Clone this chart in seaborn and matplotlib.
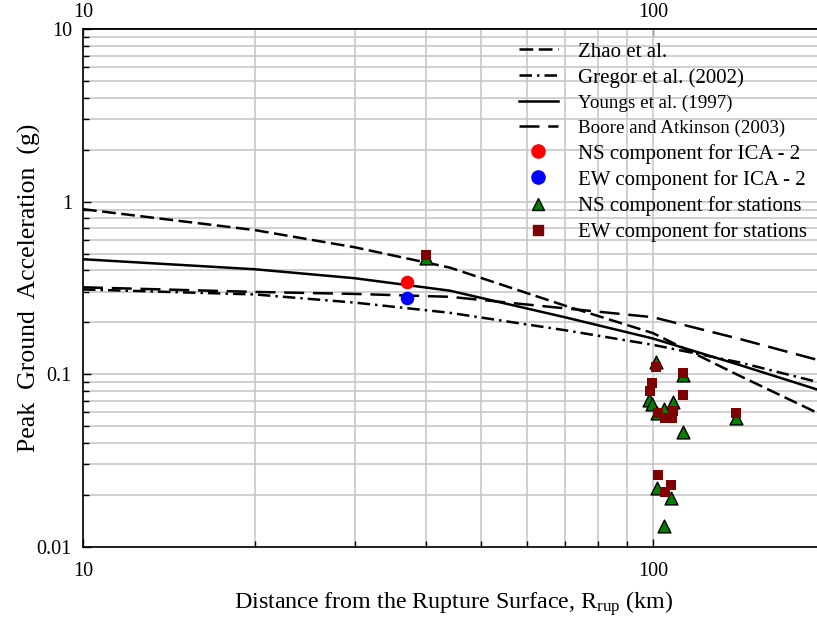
import matplotlib
matplotlib.use("Agg")
import matplotlib.pyplot as plt
import seaborn as sns
from matplotlib.lines import Line2D
from matplotlib.ticker import FixedLocator, FixedFormatter, LogLocator, NullFormatter, NullLocator

plt.rcParams.update({
    "font.family": "serif",
    "font.serif": ["Liberation Serif", "DejaVu Serif"],
    "mathtext.fontset": "custom",
    "mathtext.rm": "Liberation Serif",
    "mathtext.it": "Liberation Serif:italic",
})

# attenuation relations (distance km -> PGA g)
zhao_r = [10, 20, 30, 44, 70, 100, 140, 200]
zhao_pga = [0.905, 0.685, 0.544, 0.415, 0.25, 0.173, 0.10, 0.057]

gregor_r = [10, 20, 30, 44, 70, 100, 142, 200]
gregor_pga = [0.31, 0.29, 0.26, 0.227, 0.18, 0.148, 0.117, 0.088]

youngs_r = [10, 20, 30, 44, 70, 100, 142, 200]
youngs_pga = [0.464, 0.406, 0.36, 0.305, 0.214, 0.161, 0.113, 0.079]

boore_r = [10, 20, 30, 44, 70, 100, 142, 200]
boore_pga = [0.319, 0.30, 0.292, 0.281, 0.241, 0.214, 0.16, 0.118]

# recorded values
ica_r = [37.0]
ica_ns = [0.341]
ica_ew = [0.277]

st_ns_r = [40, 101.1, 112.7, 98.5, 99.5, 108.5, 104.7, 101.5, 112.7, 139.8, 101.7, 107.4, 104.7]
st_ns = [0.47, 0.117, 0.099, 0.071, 0.067, 0.069, 0.0626, 0.0593, 0.0464, 0.0561, 0.022, 0.0191, 0.0132]

st_ew_r = [40, 101.1, 112.7, 99.5, 98.6, 112.7, 102, 108.5, 105, 107.8, 139.8, 102, 107.4, 105]
st_ew = [0.49, 0.110, 0.102, 0.0886, 0.080, 0.0755, 0.0598, 0.0614, 0.0555, 0.0555, 0.0598, 0.026, 0.0228, 0.0208]

x_ticks = [10, 100]
x_tick_labels = ["10", "100"]
y_ticks = [0.01, 0.1, 1, 10]
y_tick_labels = ["0.01", "0.1", "1", "10"]

labels = ["Zhao et al.", "Gregor et al. (2002)", "Youngs et al. (1997)",
          "Boore and Atkinson (2003)", "NS component for ICA - 2",
          "EW component for ICA - 2", "NS component for stations",
          "EW component for stations"]

fig = plt.figure(figsize=(8.17, 6.19), dpi=100)
ax = fig.add_axes([0.1016, 0.1168, 0.9077, 0.836])
ax.set_xscale("log")
ax.set_yscale("log")

zhao_ls = (0, (5.5, 2.2))
gregor_ls = (0, (5, 2, 1, 2))
boore_ls = (0, (8, 3.5))

lw = 1.8
sns.lineplot(x=zhao_r, y=zhao_pga, ax=ax, color="black", lw=lw, linestyle=zhao_ls, sort=False, estimator=None)
sns.lineplot(x=gregor_r, y=gregor_pga, ax=ax, color="black", lw=lw, linestyle=gregor_ls, sort=False, estimator=None)
sns.lineplot(x=youngs_r, y=youngs_pga, ax=ax, color="black", lw=lw, sort=False, estimator=None)
sns.lineplot(x=boore_r, y=boore_pga, ax=ax, color="black", lw=lw, linestyle=boore_ls, sort=False, estimator=None)

sns.scatterplot(x=ica_r, y=ica_ns, ax=ax, color="#ff0000", marker="o", s=95, linewidth=0, zorder=5)
sns.scatterplot(x=ica_r, y=ica_ew, ax=ax, color="#0000ff", marker="o", s=95, linewidth=0, zorder=5)
sns.scatterplot(x=st_ns_r, y=st_ns, ax=ax, color="#008000", marker="^", s=85, edgecolor="black", linewidth=1, zorder=5)
sns.scatterplot(x=st_ew_r, y=st_ew, ax=ax, color="#7f0000", marker="s", s=55, linewidth=0, zorder=6)

ax.set_xlim(10, 200)
ax.set_ylim(0.01, 10)

ax.xaxis.set_major_locator(FixedLocator(x_ticks))
ax.xaxis.set_major_formatter(FixedFormatter(x_tick_labels))
ax.xaxis.set_minor_locator(LogLocator(base=10, subs=range(2, 10)))
ax.xaxis.set_minor_formatter(NullFormatter())
ax.yaxis.set_major_locator(FixedLocator(y_ticks))
ax.yaxis.set_major_formatter(FixedFormatter(y_tick_labels))
ax.yaxis.set_minor_locator(LogLocator(base=10, subs=range(2, 10)))
ax.yaxis.set_minor_formatter(NullFormatter())

ax.tick_params(which="both", direction="in", labelsize=14.5, top=False, right=False)
ax.tick_params(which="major", length=6, width=1)
ax.tick_params(which="minor", length=4, width=1)
ax.tick_params(axis="x", which="major", pad=11)
ax.tick_params(axis="y", which="major", pad=8)

# top axis with its own labels
top = ax.secondary_xaxis("top")
top.xaxis.set_major_locator(FixedLocator(x_ticks))
top.xaxis.set_major_formatter(FixedFormatter(x_tick_labels))
top.xaxis.set_minor_locator(NullLocator())
top.tick_params(which="major", direction="in", length=6, width=1, labelsize=14.5, pad=5)
top.spines["top"].set_linewidth(1.2)

ax.grid(True, which="both", color="#c8c8c8", lw=1.2)
ax.set_axisbelow(True)
for s in ["left", "bottom", "top"]:
    ax.spines[s].set_color("black")
    ax.spines[s].set_linewidth(1.2)

ax.set_xlabel(r"Distance from the Rupture Surface, R$_{\mathrm{rup}}$ (km)", fontsize=17.3, labelpad=6)
ax.set_ylabel("Peak  Ground  Acceleration  (g)", fontsize=18.5, labelpad=-3)

handles = [
    Line2D([], [], color="black", lw=lw, linestyle=zhao_ls),
    Line2D([], [], color="black", lw=lw, linestyle=gregor_ls),
    Line2D([], [], color="black", lw=lw),
    Line2D([], [], color="black", lw=lw, linestyle=boore_ls),
    Line2D([], [], ls="", marker="o", ms=9.5, color="#ff0000", mec="#ff0000"),
    Line2D([], [], ls="", marker="o", ms=9.5, color="#0000ff", mec="#0000ff"),
    Line2D([], [], ls="", marker="^", ms=9, color="#008000", mec="black"),
    Line2D([], [], ls="", marker="s", ms=7, color="#7f0000", mec="#7f0000"),
]
leg = ax.legend(handles, labels, loc="upper left", bbox_to_anchor=(519 / 817, 1 - 42 / 619),
                bbox_transform=fig.transFigure, frameon=False, fontsize=15,
                handlelength=1.87, handletextpad=0.96, labelspacing=0.3, borderpad=0, borderaxespad=0)
for t in leg.get_texts()[2:4]:
    t.set_fontsize(13.7)

fig.savefig("out.png", dpi=100)
